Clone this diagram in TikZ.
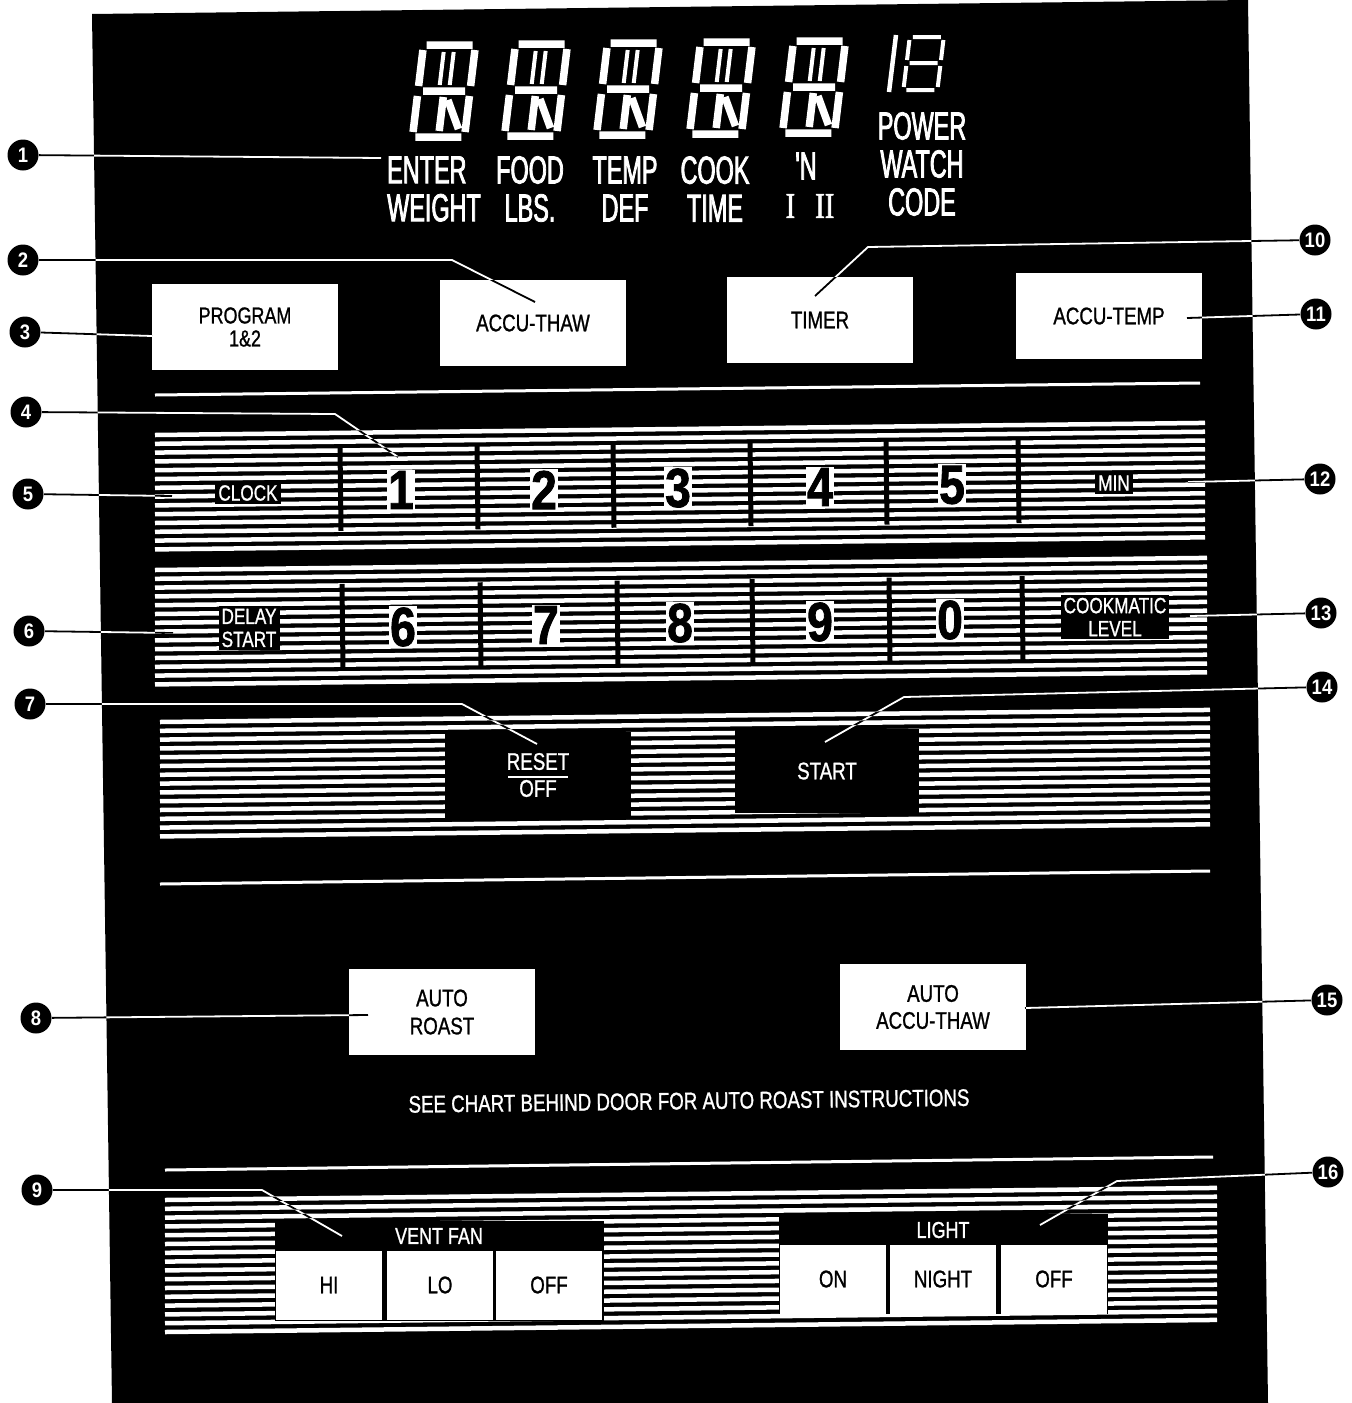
\documentclass[tikz,border=0pt]{standalone}
\usepackage{fontspec}
\setmainfont{Liberation Sans}
\newfontfamily\dispfont{Liberation Sans}[FakeStretch=0.6, FakeBold=2]
\newfontfamily\keyfont{Liberation Sans}[FakeStretch=0.78, FakeBold=1]
\newfontfamily\numfont{Liberation Sans}[FakeStretch=0.88]
\newfontfamily\padfont{Liberation Sans}[FakeStretch=0.84, FakeBold=1.5]
\newfontfamily\romfont{Liberation Serif}[FakeStretch=0.8, FakeBold=1.5]
\tikzset{
  panelkey/.style={rectangle, fill=white, inner sep=0pt, minimum width=186pt,
                   minimum height=86pt, align=center,
                   font=\keyfont\fontsize{24}{27}\selectfont},
  darkkey/.style={panelkey, fill=black, text=white},
  disp/.style={text=white, inner sep=0pt, align=center,
               font=\dispfont\fontsize{39}{38}\selectfont},
  padlbl/.style={fill=black, text=white, inner sep=3pt, align=center,
                 font=\keyfont\fontsize{22}{23}\selectfont},
  padnum/.style={fill=white, inner sep=1.5pt, font=\padfont\bfseries\fontsize{55}{55}\selectfont},
  fanbtn/.style={rectangle, fill=white, inner sep=0pt, minimum width=106pt,
                 minimum height=69pt, font=\keyfont\fontsize{24}{24}\selectfont},
  fanbar/.style={rectangle, fill=black, text=white, inner sep=0pt,
                 minimum width=328pt, minimum height=29pt,
                 font=\keyfont\fontsize{23}{23}\selectfont},
  callout/.style={circle, fill=black, text=white, inner sep=0pt, minimum size=31pt,
                  font=\numfont\bfseries\fontsize{21}{21}\selectfont},
  leader/.style={white, line width=1.8pt, blend mode=difference},
  stripe/.style={white, line width=4.5pt},
  sepline/.style={white, line width=3pt},
  divider/.style={black, line width=5pt},
  seg/.style={white, line width=7.5pt},
  lcd/.pic={
    \draw[seg] (7,4) -- (53,4) (7,96) -- (53,96) (9,50) -- (51,50)
      (4,9) -- (4,45) (4,55) -- (4,91) (56,9) -- (56,45) (56,55) -- (56,91)
      (30,56) -- (30,90) (35,59) -- (49,88);
    \draw[seg, line width=4pt] (25,11) -- (25,44) (35,11) -- (35,44);
  },
  minilcd/.pic={
    \draw[seg, line width=4pt] (5,2) -- (33,2) (5,28) -- (33,28) (5,55) -- (33,55)
      (2,5) -- (2,25) (2,31) -- (2,52) (36,5) -- (36,25) (36,31) -- (36,52);
  }
}
\begin{document}
\begin{tikzpicture}[x=1pt, y=-1pt]
  \fill[white] (0,0) rectangle (1352,1403);
  \fill[black] (92,14) -- (1248,0) -- (1268,1403) -- (112,1403) -- cycle;

  % display window
  \foreach \x/\y in {420/41, 512/40, 604/39, 697/38, 790/37}
    \pic[xslant=0.12] at (\x,\y) {lcd};
  \pic[xslant=0.12] at (908,35) {minilcd};
  \draw[white, line width=4.5pt] (896,35) -- (889,92);
  \node[disp, anchor=west, align=left] (enter) at (387,189) {ENTER\\WEIGHT};
  \node[disp] (food) at (530,189) {FOOD\\LBS.};
  \node[disp] (tempdef) at (625,189) {TEMP\\DEF};
  \node[disp] (cook) at (715,189) {COOK\\TIME};
  \node[disp] (pie) at (806,166) {'N};
  \node[disp, font=\romfont\fontsize{36}{36}\selectfont] (stage) at (810,206) {I\hspace{20pt}II};
  \node[disp] (power) at (922,164) {POWER\\WATCH\\CODE};

  \node[panelkey, font=\keyfont\fontsize{23}{23}\selectfont] (prog) at (245,327) {PROGRAM\\1\&2};
  \node[panelkey] (thaw) at (533,323) {ACCU-THAW};
  \node[panelkey] (timer) at (820,320) {TIMER};
  \node[panelkey] (acctemp) at (1109,316) {ACCU-TEMP};

  \draw[sepline] (155,395) -- (1200,383);
  \draw[sepline] (160,884) -- (1210,871);
  \draw[sepline] (165,1170) -- (1213,1157);

  % striped key bands
  \foreach \xl/\xr/\yt/\n in {155/1205/435/13, 155/1207/570/13, 160/1210/722/13, 165/1217/1200/15}
    \foreach \i in {0,...,\n}
      \draw[stripe] (\xl,{\yt+8.8*\i}) -- ++({\xr-\xl},{-0.0115*(\xr-\xl)});
  \foreach \x in {340,477,613,750,886,1018}
    \draw[divider] (\x,{449-0.0115*(\x-155)}) -- ++(1,84);
  \foreach \x in {342,480,617,752,889,1022}
    \draw[divider] (\x,{586-0.0115*(\x-155)}) -- ++(1,84);

  \node[padlbl] (clock) at (248,493) {CLOCK};
  \node[padlbl] (min) at (1114,483) {MIN};
  \foreach \d/\x/\y in {1/401/490, 2/544/490, 3/678/488, 4/820/487, 5/952/485}
    \node[padnum] (k\d) at (\x,\y) {\d};
  \node[padlbl] (delay) at (249,628) {DELAY\\START};
  \node[padlbl] (level) at (1115,617) {COOKMATIC\\LEVEL};
  \foreach \d/\x/\y in {6/403/627, 7/546/625, 8/680/623, 9/820/622, 0/950/620}
    \node[padnum] (k\d) at (\x,\y) {\d};

  \node[darkkey] (reset) at (538,775) {RESET\\OFF};
  \draw[white, line width=1.6pt] ([xshift=-30pt, yshift=-2pt]reset.center)
    -- ([xshift=30pt, yshift=-2pt]reset.center);
  \node[darkkey, minimum width=184pt, minimum height=84pt] (start) at (827,771) {START};

  \node[panelkey, font=\keyfont\fontsize{24}{28}\selectfont] (roast) at (442,1012) {AUTO\\ROAST};
  \node[panelkey, font=\keyfont\fontsize{24}{27}\selectfont] (autothaw) at (933,1007) {AUTO\\ACCU-THAW};
  \node[text=white, inner sep=0pt, rotate=0.7, font=\keyfont\fontsize{24}{24}\selectfont]
    (chart) at (689,1101) {SEE CHART BEHIND DOOR FOR AUTO ROAST INSTRUCTIONS};

  \fill[black] (275,1221) rectangle (604,1321);
  \node[fanbar] (vent) at (439,1236) {VENT FAN};
  \node[fanbtn] (hi) at (329,1285) {HI};
  \node[fanbtn] (lo) at (440,1285) {LO};
  \node[fanbtn] (fanoff) at (549,1285) {OFF};
  \fill[black] (779,1214) rectangle (1108,1314);
  \node[fanbar] (light) at (943,1230) {LIGHT};
  \node[fanbtn] (on) at (833,1279) {ON};
  \node[fanbtn] (night) at (943,1279) {NIGHT};
  \node[fanbtn] (lightoff) at (1054,1279) {OFF};

  % callouts
  \foreach \n/\x/\y in {1/23/155, 2/23/260, 3/25/332, 4/26/412, 5/28/494, 6/29/631,
      7/30/704, 8/36/1018, 9/37/1190, 10/1315/240, 11/1316/314, 12/1320/479,
      13/1321/613, 14/1322/687, 15/1327/1000, 16/1328/1172}
    \node[callout] (c\n) at (\x,\y) {\n};
  \coordinate (t1) at (381,158);
  \coordinate (b2) at (452,260);   \coordinate (t2) at (535,302);
  \coordinate (t3) at (152,336);
  \coordinate (b4) at (335,414);   \coordinate (t4) at (398,457);
  \coordinate (t5) at (172,496);
  \coordinate (t6) at (173,633);
  \coordinate (b7) at (462,704);   \coordinate (t7) at (537,744);
  \coordinate (t8) at (368,1015);
  \coordinate (b9) at (262,1190);  \coordinate (t9) at (342,1236);
  \coordinate (b10) at (868,247);  \coordinate (t10) at (815,296);
  \coordinate (t11) at (1187,318);
  \coordinate (t12) at (1188,482);
  \coordinate (t13) at (1190,616);
  \coordinate (b14) at (904,697);  \coordinate (t14) at (825,742);
  \coordinate (t15) at (1025,1008);
  \coordinate (b16) at (1117,1181); \coordinate (t16) at (1040,1225);
  \foreach \n in {1,3,5,6,8,11,12,13,15}
    \draw[leader] (c\n) -- (t\n);
  \foreach \n in {2,4,7,9,10,14,16}
    \draw[leader] (c\n) -- (b\n) -- (t\n);
\end{tikzpicture}
\end{document}
